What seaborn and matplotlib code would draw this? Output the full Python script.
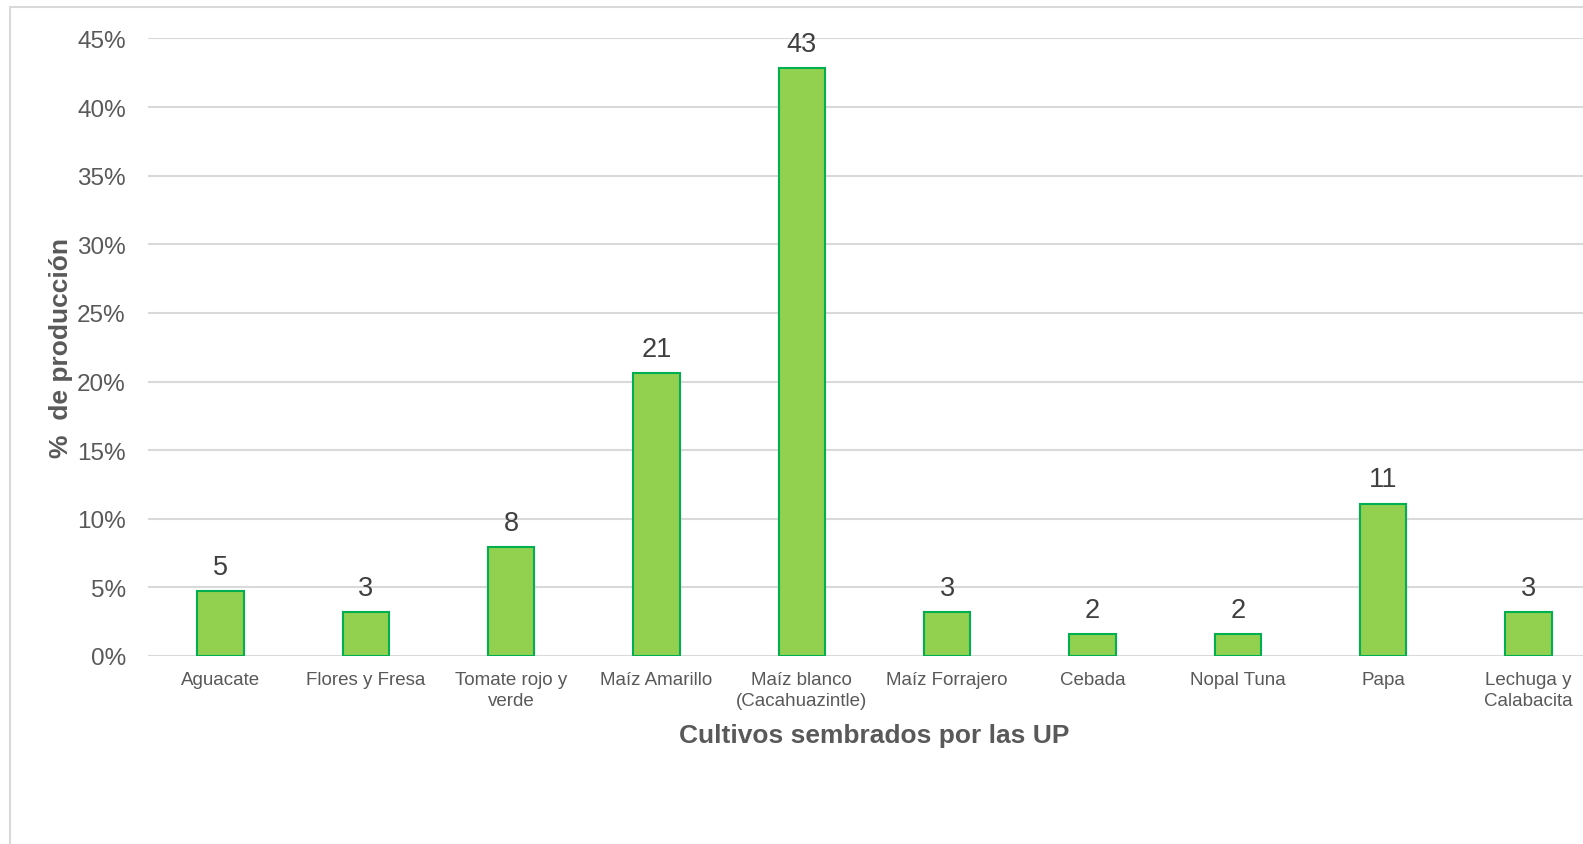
import matplotlib
matplotlib.use("Agg")
import matplotlib.pyplot as plt
import matplotlib.patches as mpatches
from matplotlib.ticker import FuncFormatter
import seaborn as sns
import pandas as pd

categories = ["Aguacate", "Flores y Fresa", "Tomate rojo y\nverde", "Maíz Amarillo",
              "Maíz blanco\n(Cacahuazintle)", "Maíz Forrajero", "Cebada", "Nopal Tuna",
              "Papa", "Lechuga y\nCalabacita"]
values = [4.76, 3.17, 7.94, 20.63, 42.86, 3.17, 1.59, 1.59, 11.11, 3.17]
yticks = [0, 5, 10, 15, 20, 25, 30, 35, 40, 45]

df = pd.DataFrame({"cultivo": categories, "pct": values})

sns.set_theme(style="white")
plt.rcParams["font.family"] = ["Liberation Sans", "DejaVu Sans"]

W, H = 1583, 845
fig = plt.figure(figsize=(W / 100, H / 100), dpi=100)
fig.patch.set_facecolor("white")

left, right, top, bottom = 148, 1601, 39.4, 657
ax = fig.add_axes([left / W, 1 - bottom / H, (right - left) / W, (bottom - top) / H])

sns.barplot(data=df, x="cultivo", y="pct", ax=ax, color="#92D050",
            edgecolor="#00B050", linewidth=1.5, width=0.32, saturation=1)

ax.set_ylim(0, 45)
ax.set_xlim(-0.5, len(categories) - 0.5)
ax.set_yticks(yticks)
ax.yaxis.set_major_formatter(FuncFormatter(lambda v, p: f"{v:.0f}%"))
ax.grid(axis="y", color="#D9D9D9", linewidth=1.5, zorder=0)
ax.set_axisbelow(True)
for s in ax.spines.values():
    s.set_visible(False)
ax.tick_params(axis="y", length=0, pad=16, labelsize=17.5, labelcolor="#595959")
ax.tick_params(axis="x", length=0, pad=11, labelsize=13.5, labelcolor="#595959")
for lab in ax.get_xticklabels():
    lab.set_linespacing(1.3)

ax.set_xlabel("Cultivos sembrados por las UP", fontsize=19, fontweight="bold",
              color="#595959", labelpad=10)
ax.set_ylabel("%  de producción", fontsize=19, fontweight="bold",
              color="#595959", labelpad=3)

ax.bar_label(ax.containers[0], labels=[f"{v:.0f}" for v in values],
             padding=8, fontsize=19.5, color="#404040")

border = mpatches.Rectangle((10 / W, -0.1), 1.2, 1 - 8 / H + 0.1,
                            transform=fig.transFigure, fill=False,
                            edgecolor="#D9D9D9", linewidth=1.5, clip_on=False)
fig.patches.append(border)

fig.savefig("out.png", dpi=100, facecolor="white")
